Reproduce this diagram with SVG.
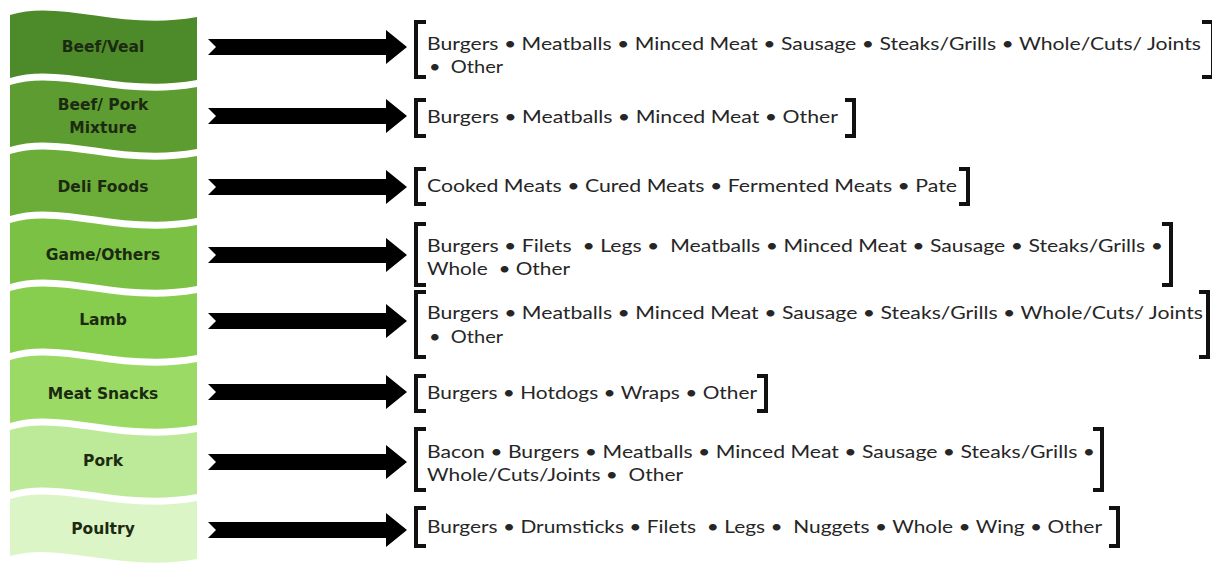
<svg xmlns="http://www.w3.org/2000/svg" width="1212" height="565" viewBox="0 0 1212 565">
<style>
.lbl{font-family:"DejaVu Sans","Liberation Sans",sans-serif;font-weight:bold;font-size:15.5px;fill:#1c2a12;text-anchor:middle}
.item{font-family:Lato,"Open Sans",sans-serif;font-size:18px;fill:#262626;white-space:pre}
.br{fill:none;stroke:#111;stroke-width:4;stroke-linejoin:miter;stroke-linecap:butt}
.arr{fill:#000}
</style>
<defs>
<path id="arrow" d="M208,-8 L386,-8 L386,-17 L407,0 L386,17 L386,8 L208,8 L216,0 Z"/>
</defs>
<rect width="1212" height="565" fill="#fff"/>

<g id="node-beef-veal">
<path d="M10,15 C60,-1 120,31 197,17 L197,80 C120,94 60,62 10,78 Z" fill="#4d8a29"/>
<text class="lbl" x="103" y="52">Beef/Veal</text>
</g>
<g id="node-beef-pork">
<path d="M10,85 C60,69 120,101 197,87 L197,149 C120,163 60,131 10,147 Z" fill="#5c9c30"/>
<text class="lbl" x="103" y="110">Beef/ Pork</text>
<text class="lbl" x="103" y="133">Mixture</text>
</g>
<g id="node-deli">
<path d="M10,154 C60,138 120,170 197,156 L197,218 C120,232 60,200 10,216 Z" fill="#6bad38"/>
<text class="lbl" x="103" y="192">Deli Foods</text>
</g>
<g id="node-game">
<path d="M10,223 C60,207 120,239 197,225 L197,286 C120,300 60,268 10,284 Z" fill="#7bc143"/>
<text class="lbl" x="103" y="260">Game/Others</text>
</g>
<g id="node-lamb">
<path d="M10,291 C60,275 120,307 197,293 L197,355 C120,369 60,337 10,353 Z" fill="#87cd4e"/>
<text class="lbl" x="103" y="325">Lamb</text>
</g>
<g id="node-meat-snacks">
<path d="M10,360 C60,344 120,376 197,362 L197,425 C120,439 60,407 10,423 Z" fill="#9bdb65"/>
<text class="lbl" x="103" y="399">Meat Snacks</text>
</g>
<g id="node-pork">
<path d="M10,430 C60,414 120,446 197,432 L197,494 C120,508 60,476 10,492 Z" fill="#bdea98"/>
<text class="lbl" x="103" y="466">Pork</text>
</g>
<g id="node-poultry">
<path d="M10,499 C60,483 120,515 197,501 L197,559 C120,573 60,541 10,556 Z" fill="#dcf5c6"/>
<text class="lbl" x="103" y="534">Poultry</text>
</g>

<g id="connectors">
<use href="#arrow" class="arr" transform="translate(0,47)"/>
<use href="#arrow" class="arr" transform="translate(0,116)"/>
<use href="#arrow" class="arr" transform="translate(0,187)"/>
<use href="#arrow" class="arr" transform="translate(0,255)"/>
<use href="#arrow" class="arr" transform="translate(0,321)"/>
<use href="#arrow" class="arr" transform="translate(0,392)"/>
<use href="#arrow" class="arr" transform="translate(0,462)"/>
<use href="#arrow" class="arr" transform="translate(0,530)"/>
</g>

<g id="list-beef-veal">
<path class="br" d="M426,22 H416 V77 H426"/>
<path class="br" d="M1202,22 H1213 V77 H1202"/>
<text class="item" x="427" y="50" textLength="774" lengthAdjust="spacingAndGlyphs">Burgers • Meatballs • Minced Meat • Sausage • Steaks/Grills • Whole/Cuts/ Joints</text>
<text class="item" x="429" y="73" textLength="74" lengthAdjust="spacingAndGlyphs">•  Other</text>
</g>
<g id="list-beef-pork">
<path class="br" d="M426,100 H416 V136 H426"/>
<path class="br" d="M845,100 H854 V136 H845"/>
<text class="item" x="427" y="123" textLength="411" lengthAdjust="spacingAndGlyphs">Burgers • Meatballs • Minced Meat • Other</text>
</g>
<g id="list-deli">
<path class="br" d="M426,169 H416 V204 H426"/>
<path class="br" d="M959,169 H968 V204 H959"/>
<text class="item" x="427" y="192" textLength="530" lengthAdjust="spacingAndGlyphs">Cooked Meats • Cured Meats • Fermented Meats • Pate</text>
</g>
<g id="list-game">
<path class="br" d="M426,224 H416 V285 H426"/>
<path class="br" d="M1162,224 H1171 V285 H1162"/>
<text class="item" x="427" y="252" textLength="736" lengthAdjust="spacingAndGlyphs">Burgers • Filets  • Legs •  Meatballs • Minced Meat • Sausage • Steaks/Grills •</text>
<text class="item" x="427" y="275" textLength="143" lengthAdjust="spacingAndGlyphs">Whole  • Other</text>
</g>
<g id="list-lamb">
<path class="br" d="M426,292 H416 V357 H426"/>
<path class="br" d="M1199,292 H1208 V357 H1199"/>
<text class="item" x="427" y="319" textLength="776" lengthAdjust="spacingAndGlyphs">Burgers • Meatballs • Minced Meat • Sausage • Steaks/Grills • Whole/Cuts/ Joints</text>
<text class="item" x="429" y="343" textLength="74" lengthAdjust="spacingAndGlyphs">•  Other</text>
</g>
<g id="list-meat-snacks">
<path class="br" d="M426,376 H416 V411 H426"/>
<path class="br" d="M757,376 H766 V411 H757"/>
<text class="item" x="427" y="399" textLength="330" lengthAdjust="spacingAndGlyphs">Burgers • Hotdogs • Wraps • Other</text>
</g>
<g id="list-pork">
<path class="br" d="M426,429 H416 V490 H426"/>
<path class="br" d="M1093,429 H1102 V490 H1093"/>
<text class="item" x="427" y="458" textLength="668" lengthAdjust="spacingAndGlyphs">Bacon • Burgers • Meatballs • Minced Meat • Sausage • Steaks/Grills •</text>
<text class="item" x="427" y="481" textLength="256" lengthAdjust="spacingAndGlyphs">Whole/Cuts/Joints •  Other</text>
</g>
<g id="list-poultry">
<path class="br" d="M426,508 H416 V546 H426"/>
<path class="br" d="M1109,508 H1118 V546 H1109"/>
<text class="item" x="427" y="533" textLength="675" lengthAdjust="spacingAndGlyphs">Burgers • Drumsticks • Filets  • Legs •  Nuggets • Whole • Wing • Other</text>
</g>
</svg>
